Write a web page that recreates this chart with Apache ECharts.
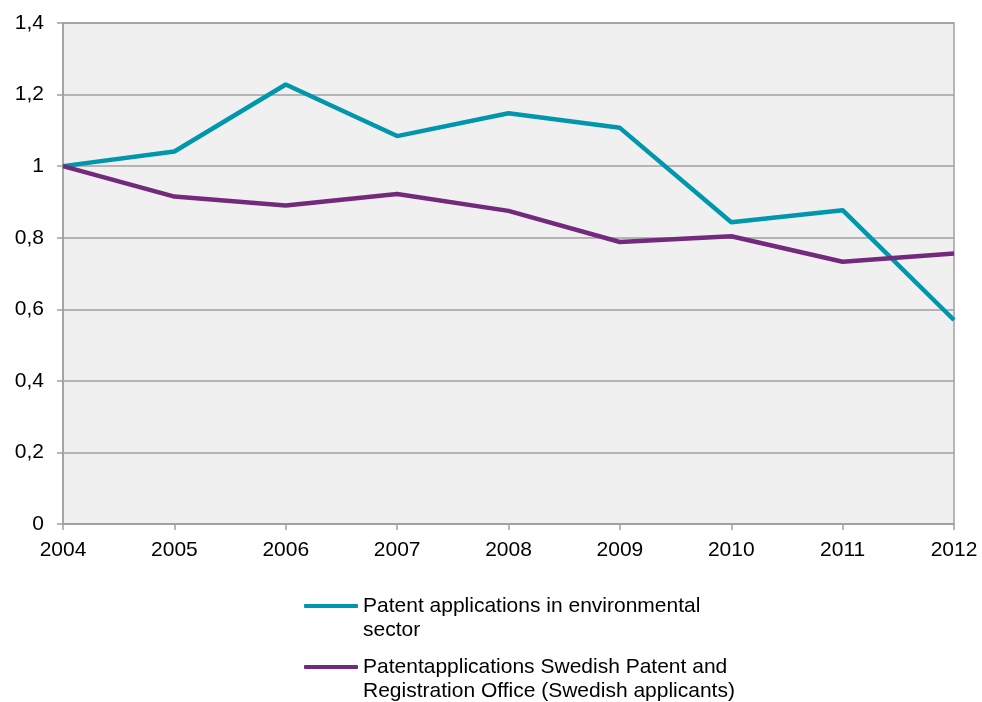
<!DOCTYPE html>
<html>
<head>
<meta charset="utf-8">
<script src="https://cdn.jsdelivr.net/npm/echarts@6/dist/echarts.min.js"></script>
<style>
html,body{margin:0;padding:0;background:#fff;}
#chart{width:982px;height:702px;}
</style>
</head>
<body>
<div id="chart"></div>
<script>
var years = ['2004','2005','2006','2007','2008','2009','2010','2011','2012'];
var envPatents = [1.0, 1.041, 1.228, 1.084, 1.148, 1.107, 0.843, 0.877, 0.570];
var swedishPatents = [1.0, 0.915, 0.890, 0.922, 0.875, 0.788, 0.804, 0.733, 0.756];
var seriesNames = [
  'Patent applications in environmental\nsector',
  'Patentapplications Swedish Patent and\nRegistration Office (Swedish applicants)'
];
var colors = ['#0097AC', '#742A7C'];

var chart = echarts.init(document.getElementById('chart'));
var font = 'Liberation Sans, Arial, sans-serif';
function legendCfg(name, top) {
  return {
    data: [name],
    left: 304,
    top: top,
    padding: 0,
    icon: 'roundRect',
    itemWidth: 54,
    itemHeight: 4,
    selectedMode: false,
    formatter: function (n) { return '\n' + n; },
    textStyle: {
      fontFamily: font,
      fontSize: 21,
      color: '#000',
      lineHeight: 24
    }
  };
}
chart.setOption({
  animation: false,
  textStyle: { fontFamily: font },
  grid: {
    left: 63, right: 28, top: 23, bottom: 178,
    show: true,
    backgroundColor: '#F0F0F0',
    borderColor: '#A0A0A0',
    borderWidth: 1.5
  },
  legend: [
    legendCfg(seriesNames[0], 570),
    legendCfg(seriesNames[1], 631)
  ],
  xAxis: {
    type: 'category',
    data: years,
    boundaryGap: false,
    axisLine: { lineStyle: { color: '#A0A0A0', width: 1.5 } },
    axisTick: { show: true, length: 6, alignWithLabel: true, lineStyle: { color: '#A0A0A0', width: 1.5 } },
    axisLabel: { color: '#000', fontSize: 21, fontFamily: font, margin: 16 },
    splitLine: { show: false }
  },
  yAxis: {
    type: 'value',
    min: 0, max: 1.4, interval: 0.2,
    axisLine: { show: true, lineStyle: { color: '#A0A0A0', width: 1.5 } },
    axisTick: { show: true, length: 6, lineStyle: { color: '#A0A0A0', width: 1.5 } },
    axisLabel: {
      color: '#000', fontSize: 21, fontFamily: font, margin: 19,
      formatter: function (v) { return String(Math.round(v * 10) / 10).replace('.', ','); }
    },
    splitLine: { show: true, lineStyle: { color: '#A0A0A0', width: 1.5 } }
  },
  series: [
    {
      name: seriesNames[0], type: 'line', data: envPatents,
      symbol: 'none', lineStyle: { color: colors[0], width: 4.5 }, itemStyle: { color: colors[0] }
    },
    {
      name: seriesNames[1], type: 'line', data: swedishPatents,
      symbol: 'none', lineStyle: { color: colors[1], width: 4.5 }, itemStyle: { color: colors[1] }
    }
  ]
});
</script>
</body>
</html>
